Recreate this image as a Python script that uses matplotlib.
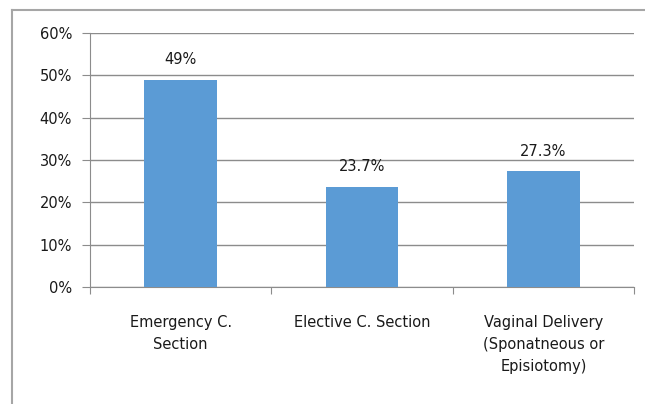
import matplotlib.pyplot as plt
from matplotlib.lines import Line2D
from matplotlib.ticker import PercentFormatter

categories = ['Emergency C.\nSection', 'Elective C. Section',
              'Vaginal Delivery\n(Sponatneous or\nEpisiotomy)']
values = [49.0, 23.7, 27.3]
labels = ['49%', '23.7%', '27.3%']
yticks = [0, 10, 20, 30, 40, 50, 60]

plt.rcParams['font.family'] = ['DejaVu Sans']
txt = '#1a1a1a'
grid = '#8c8c8c'
fs = 10.5

fig = plt.figure(figsize=(6.45, 4.04), dpi=100)
ax = fig.add_axes([90 / 645, 1 - 287 / 404, 544 / 645, 254 / 404])

x = list(range(len(categories)))
ax.bar(x, values, width=0.4, color='#5b9bd5', zorder=3)
for xi, v, lab in zip(x, values, labels):
    ax.annotate(lab, (xi, v), xytext=(0, 9), textcoords='offset points',
                ha='center', va='bottom', fontsize=fs, color=txt)

ax.set_xlim(-0.5, 2.5)
ax.set_ylim(0, 60)
ax.set_yticks(yticks)
ax.yaxis.set_major_formatter(PercentFormatter(decimals=0))
ax.yaxis.grid(True, color=grid, linewidth=1, zorder=0)

# category labels between boundary ticks
ax.set_xticks([-0.5, 0.5, 1.5, 2.5])
ax.set_xticklabels([])
ax.set_xticks(x, minor=True)
ax.set_xticklabels(categories, minor=True, fontsize=fs, color=txt,
                   linespacing=1.6)
ax.tick_params(axis='x', which='minor', length=0, pad=20)
ax.tick_params(axis='x', which='major', length=5, color=grid)
ax.tick_params(axis='y', length=6, color=grid, labelsize=fs,
               labelcolor=txt, pad=7)

for s in ['top', 'right']:
    ax.spines[s].set_visible(False)
ax.spines['left'].set_color(grid)
ax.spines['bottom'].set_color(grid)

# chart area border (top and left edges visible)
fig.add_artist(Line2D([12 / 645, 12 / 645], [0, 1 - 10 / 404],
                      color='#a6a6a6', linewidth=1.5))
fig.add_artist(Line2D([12 / 645, 1], [1 - 10 / 404, 1 - 10 / 404],
                      color='#a6a6a6', linewidth=1.5))

fig.savefig('out.png', dpi=100)
